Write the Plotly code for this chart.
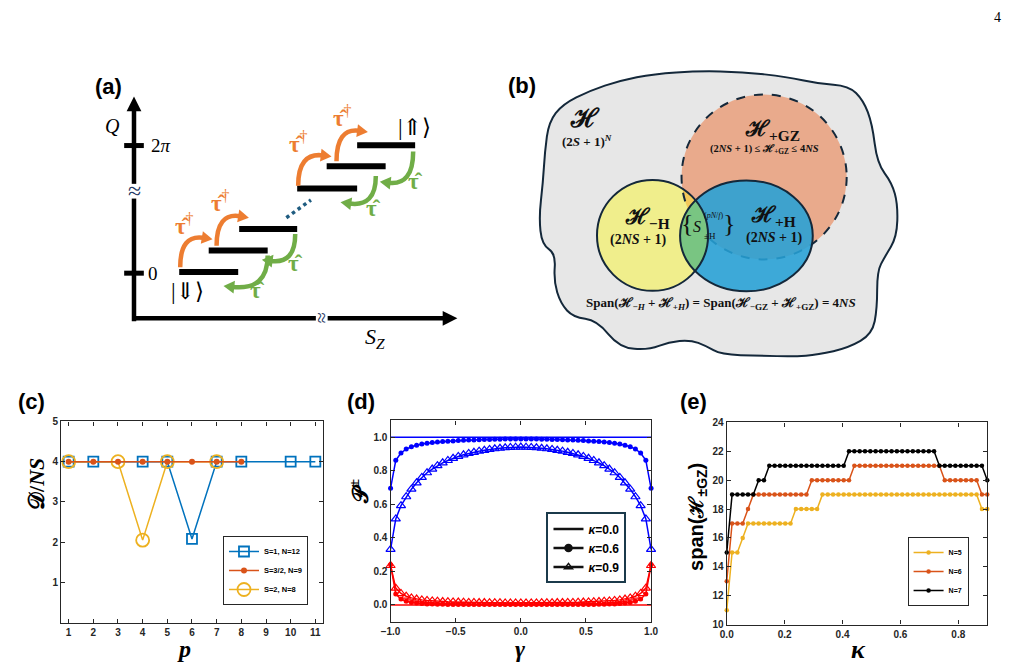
import numpy as np
import plotly.graph_objects as go

# reference picture size; the page body keeps an 8 px margin, so the figure is that much smaller
W, H = 1017, 672
PAD = 8
FW, FH = W - 2 * PAD, H - 2 * PAD
SERIF = "Liberation Serif, DejaVu Serif, serif"
SANS = "Liberation Sans, Arial, sans-serif"
INK = "#262626"

# ---------------- panel (c): D/NS against p ----------------
p_s1 = [1, 2, 4, 5, 6, 7, 8, 10, 11]
dns_s1 = [4, 4, 4, 4, 2.08, 4, 4, 4, 4]
p_s32 = [1, 2, 3, 4, 5, 6, 7, 8]
dns_s32 = [4, 4, 4, 4, 4, 4, 4, 4]
p_s2 = [1, 3, 4, 5, 7]
dns_s2 = [4, 4, 2.05, 4, 4]
p_ticks = [1, 2, 3, 4, 5, 6, 7, 8, 9, 10, 11]

# ---------------- panel (d): P+- against gamma ----------------
gamma = [-1.00, -0.96, -0.92, -0.88, -0.84, -0.80, -0.76, -0.72, -0.68, -0.64,
         -0.60, -0.56, -0.52, -0.48, -0.44, -0.40, -0.36, -0.32, -0.28, -0.24,
         -0.20, -0.16, -0.12, -0.08, -0.04, 0.00, 0.04, 0.08, 0.12, 0.16,
         0.20, 0.24, 0.28, 0.32, 0.36, 0.40, 0.44, 0.48, 0.52, 0.56,
         0.60, 0.64, 0.68, 0.72, 0.76, 0.80, 0.84, 0.88, 0.92, 0.96, 1.00]
gamma_ends = [-1.0, 1.0]
p_plus_k0 = [1.0, 1.0]
p_minus_k0 = [0.0, 0.0]
p_plus_k06 = [0.695, 0.862, 0.906, 0.929, 0.943, 0.952, 0.959, 0.964, 0.968, 0.971,
              0.974, 0.976, 0.978, 0.980, 0.982, 0.983, 0.984, 0.985, 0.986, 0.987,
              0.988, 0.988, 0.989, 0.989, 0.990, 0.990, 0.990, 0.989, 0.989, 0.988,
              0.988, 0.987, 0.986, 0.985, 0.984, 0.983, 0.982, 0.980, 0.978, 0.976,
              0.974, 0.971, 0.968, 0.964, 0.959, 0.952, 0.943, 0.929, 0.906, 0.862, 0.695]
p_plus_k09 = [0.331, 0.513, 0.592, 0.645, 0.690, 0.728, 0.760, 0.788, 0.810, 0.830,
              0.847, 0.861, 0.874, 0.885, 0.895, 0.903, 0.910, 0.917, 0.922, 0.927,
              0.931, 0.934, 0.937, 0.939, 0.940, 0.941, 0.940, 0.939, 0.937, 0.934,
              0.931, 0.927, 0.922, 0.917, 0.910, 0.903, 0.895, 0.885, 0.874, 0.861,
              0.847, 0.830, 0.810, 0.788, 0.760, 0.728, 0.690, 0.645, 0.592, 0.513, 0.331]
p_minus_k06 = [0.240, 0.065, 0.035, 0.022, 0.015, 0.011, 0.008, 0.006, 0.005, 0.004,
               0.004, 0.003, 0.003, 0.003, 0.002, 0.002, 0.002, 0.002, 0.002, 0.002,
               0.002, 0.002, 0.002, 0.002, 0.002, 0.002, 0.002, 0.002, 0.002, 0.002,
               0.002, 0.002, 0.002, 0.002, 0.002, 0.002, 0.002, 0.003, 0.003, 0.003,
               0.004, 0.004, 0.005, 0.006, 0.008, 0.011, 0.015, 0.022, 0.035, 0.065, 0.240]
p_minus_k09 = [0.235, 0.100, 0.068, 0.052, 0.042, 0.035, 0.030, 0.027, 0.024, 0.022,
               0.020, 0.019, 0.018, 0.017, 0.016, 0.015, 0.015, 0.014, 0.014, 0.013,
               0.013, 0.013, 0.012, 0.012, 0.012, 0.012, 0.012, 0.012, 0.012, 0.013,
               0.013, 0.013, 0.014, 0.014, 0.015, 0.015, 0.016, 0.017, 0.018, 0.019,
               0.020, 0.022, 0.024, 0.027, 0.030, 0.035, 0.042, 0.052, 0.068, 0.100, 0.235]

# ---------------- panel (e): span(H+-GZ) against kappa ----------------
kappa = [0.0000, 0.0184, 0.0367, 0.0551, 0.0735, 0.0918, 0.1102, 0.1286, 0.1469, 0.1653,
         0.1837, 0.2020, 0.2204, 0.2388, 0.2571, 0.2755, 0.2939, 0.3122, 0.3306, 0.3490,
         0.3673, 0.3857, 0.4041, 0.4224, 0.4408, 0.4592, 0.4776, 0.4959, 0.5143, 0.5327,
         0.5510, 0.5694, 0.5878, 0.6061, 0.6245, 0.6429, 0.6612, 0.6796, 0.6980, 0.7163,
         0.7347, 0.7531, 0.7714, 0.7898, 0.8082, 0.8265, 0.8449, 0.8633, 0.8816, 0.9000]
span_n5 = [11, 15, 15, 16, 17, 17, 17, 17, 17, 17,
           17, 17, 17, 18, 18, 18, 18, 18, 19, 19,
           19, 19, 19, 19, 19, 19, 19, 19, 19, 19,
           19, 19, 19, 19, 19, 19, 19, 19, 19, 19,
           19, 19, 19, 19, 19, 19, 19, 19, 18, 18]
span_n6 = [13, 17, 17, 17, 18, 19, 19, 19, 19, 19,
           19, 19, 19, 19, 19, 19, 20, 20, 20, 20,
           20, 20, 20, 20, 21, 21, 21, 21, 21, 21,
           21, 21, 21, 21, 21, 21, 21, 21, 21, 21,
           21, 20, 20, 20, 20, 20, 20, 20, 19, 19]
span_n7 = [15, 19, 19, 19, 19, 19, 20, 20, 21, 21,
           21, 21, 21, 21, 21, 21, 21, 21, 21, 21,
           21, 21, 21, 22, 22, 22, 22, 22, 22, 22,
           22, 22, 22, 22, 22, 22, 22, 22, 22, 22,
           21, 21, 21, 21, 21, 21, 21, 21, 21, 20]

# ---------------- drawing helpers (window pixel -> paper) ----------------
shapes, annos = [], []


def fx(x):
    return (x - PAD) / FW


def fy(y):
    return 1 - (y - PAD) / FH


def pt(p):
    return f"{fx(p[0]):.5f},{fy(p[1]):.5f}"


def seg(x0, y0, x1, y1, color, width, dash=None):
    shapes.append(dict(type="line", xref="paper", yref="paper",
                       x0=fx(x0), y0=fy(y0), x1=fx(x1), y1=fy(y1),
                       line=dict(color=color, width=width, dash=dash)))


def poly(pts, fill, opacity=1.0):
    d = "M " + " L ".join(pt(p) for p in pts) + " Z"
    shapes.append(dict(type="path", xref="paper", yref="paper", path=d,
                       fillcolor=fill, opacity=opacity, line=dict(width=0)))


def oval(c, r, fill=None, line=None, width=0, dash=None, opacity=1.0):
    shapes.append(dict(type="circle", xref="paper", yref="paper",
                       x0=fx(c[0] - r[0]), x1=fx(c[0] + r[0]),
                       y0=fy(c[1] + r[1]), y1=fy(c[1] - r[1]),
                       fillcolor=fill or "rgba(0,0,0,0)", opacity=opacity,
                       line=dict(color=line or "rgba(0,0,0,0)", width=width, dash=dash)))


def text(x, y, s, size, color="black", family=SERIF, **kw):
    annos.append(dict(x=fx(x), y=fy(y), xref="paper", yref="paper", text=s,
                      showarrow=False, xanchor="center", yanchor="middle",
                      font=dict(size=size, color=color, family=family), **kw))


def curved_arrow(p0, pc, p1, color):
    path = f"M {pt(p0)} Q {pt(pc)} {pt(p1)}"
    shapes.append(dict(type="path", xref="paper", yref="paper", path=path,
                       fillcolor="rgba(0,0,0,0)", line=dict(color=color, width=4.5)))
    d = np.array(p1, float) - np.array(pc, float)
    d /= np.hypot(*d)
    n = np.array([-d[1], d[0]])
    tip = np.array(p1) + 9 * d
    base = np.array(p1) - 2 * d
    poly([tip, base + 6.5 * n, base - 6.5 * n], color)


def ellipse_pts(c, r, n=480):
    t = np.linspace(0, 2 * np.pi, n, endpoint=False)
    return np.c_[c[0] + r[0] * np.cos(t), c[1] + r[1] * np.sin(t)]


def arc_in(a, b):
    pts = ellipse_pts(*a)
    m = ((pts[:, 0] - b[0][0]) / b[1][0]) ** 2 + ((pts[:, 1] - b[0][1]) / b[1][1]) ** 2 <= 1
    start = int(np.argmax(m & ~np.roll(m, 1)))
    pts, m = np.roll(pts, -start, axis=0), np.roll(m, -start)
    return pts[:int(np.argmin(m))]


def lens(a, b):
    return np.vstack([arc_in(a, b), arc_in(b, a)])


def smooth_closed(pts):
    n = len(pts)
    mids = [((pts[i][0] + pts[(i + 1) % n][0]) / 2, (pts[i][1] + pts[(i + 1) % n][1]) / 2)
            for i in range(n)]
    d = f"M {pt(mids[-1])}"
    for i in range(n):
        d += f" Q {pt(pts[i])} {pt(mids[i])}"
    return d + " Z"


# ---------------- (a) ladder of states ----------------
ORANGE, GREEN, NAVY = "#ED7D31", "#70AD47", "#1F3864"
seg(126, 321, 126, 104, "black", 4.5)
poly([(126, 92), (118.5, 107), (133.5, 107)], "black")
seg(124, 318, 442, 318, "black", 4.5)
poly([(455, 318), (440, 310.5), (440, 325.5)], "black")
seg(116, 142, 136, 142, "black", 5)
seg(116, 272, 136, 272, "black", 5)
shapes.append(dict(type="rect", xref="paper", yref="paper", x0=fx(119), x1=fx(134),
                   y0=fy(196), y1=fy(181), fillcolor="white", line=dict(width=0)))
shapes.append(dict(type="rect", xref="paper", yref="paper", x0=fx(311), x1=fx(323),
                   y0=fy(326), y1=fy(310), fillcolor="white", line=dict(width=0)))
text(127, 188, "≈", 24, NAVY)
text(317, 318, "≈", 20, NAVY, textangle=90)
text(104, 122, "<i>Q</i>", 20)
text(153, 142, "2<i>π</i>", 19)
text(145, 272, "0", 19)
text(371, 338, "<i>S</i><sub><i>Z</i></sub>", 22)

bars = [(172, 232, 270.7), (202, 262, 249), (233, 292, 227),
        (292, 353, 185.7), (322, 382, 163), (353, 412, 141.7)]
for x0, x1, y in bars:
    seg(x0, y, x1, y, "black", 6)
seg(281, 215.5, 306, 197.5, "#1F5C80", 3.5, "dot")

for p0, pc, p1 in [((173, 266), (173, 232), (197, 236)),
                   ((210, 244), (210, 210), (234, 214)),
                   ((293, 183), (293, 149), (318, 152)),
                   ((332, 158), (332, 124), (355, 127))]:
    curved_arrow(p0, pc, p1, ORANGE)
for p0, pc, p1 in [((262, 254), (262, 290), (226, 286)),
                   ((290, 232), (290, 263), (265, 259.5)),
                   ((372, 173), (372, 205), (345, 201)),
                   ((410, 148), (410, 183), (385, 180))]:
    curved_arrow(p0, pc, p1, GREEN)
for x, y in [(177, 222), (214, 199), (293, 139), (338, 112)]:
    text(x, y, "<b>τ̂</b><sup>†</sup>", 23, ORANGE)
for x, y in [(252, 290), (290, 262), (370, 206), (412, 179)]:
    text(x, y, "<b>τ̂</b>", 23, GREEN)
text(180, 291, "|⇓⟩", 23)
text(411, 124, "|⇑⟩", 23)

# ---------------- (b) Hilbert space diagram ----------------
blob = [(548, 118), (562, 100), (590, 86), (620, 76), (655, 69), (700, 66), (745, 67),
        (790, 72), (822, 79), (853, 81), (868, 96), (877, 120), (882, 160), (897, 180),
        (903, 202), (902, 235), (890, 255), (882, 270), (882, 308), (877, 334), (853, 348),
        (822, 355), (797, 357), (763, 356), (723, 355), (708, 346), (692, 340), (670, 342),
        (650, 350), (620, 348), (597, 320), (573, 317), (560, 303), (553, 280), (555, 252),
        (541, 243), (538, 215), (542, 180), (544, 148)]
OUT = "#14283A"
shapes.append(dict(type="path", xref="paper", yref="paper", path=smooth_closed(blob),
                   fillcolor="#E7E7E7", line=dict(color=OUT, width=2)))
C_Y = ((653.5, 233.5), (56.5, 56.5))
C_B = ((749.0, 234.0), (67.5, 56.5))
C_O = ((767.0, 174.0), (84.0, 84.0))
oval(*C_O, fill="#E9AA8C")
oval(*C_Y, fill="#F0EE8C")
poly(lens(C_Y, C_O), "#F2C85A")
oval(*C_O, line=OUT, width=2, dash="dash")
oval(*C_B, fill="#25A0D6", opacity=0.88)
poly(lens(C_Y, C_B), "#7EC87C", opacity=0.92)
oval(*C_Y, line=OUT, width=2)
oval(*C_B, line=OUT, width=2)

text(585, 114, "<b>ℋ</b>", 26, "#111")
text(587, 137, "<b>(2<i>S</i> + 1)<sup><i>N</i></sup></b>", 13, "#111")
text(776, 126, "<b>ℋ<sub>+GZ</sub></b>", 22, "#111")
text(767, 146, "<b>(2<i>NS</i> + 1) ≤ ℋ<sub>+GZ</sub> ≤ 4<i>NS</i></b>", 10.5, "#111")
text(648, 216, "<b>ℋ<sub>−H</sub></b>", 22, "#111")
text(639, 238, "<b>(2<i>NS</i> + 1)</b>", 14, "#111")
text(777, 214, "<b>ℋ<sub>+H</sub></b>", 22, "#111")
text(778, 236, "<b>(2<i>NS</i> + 1)</b>", 14, "#111")
text(689, 221, "{", 26, "#111")
text(731, 221, "}", 26, "#111")
text(699, 224, "<i>S</i>", 16, "#111")
text(716, 213, "(<i>pN</i>/<i>f</i>)", 8, "#111")
text(712, 234, "±H", 9, "#111")
text(723, 303, "<b>Span(ℋ<sub>−<i>H</i></sub> + ℋ<sub>+<i>H</i></sub>) = "
               "Span(ℋ<sub>−GZ</sub> + ℋ<sub>+GZ</sub>) = 4<i>NS</i></b>", 13, "#111")

# ---------------- panel letters, titles ----------------
for x, y, s in [(100, 82, "(a)"), (521, 81, "(b)"), (22, 403, "(c)"),
                (357, 403, "(d)"), (695, 403, "(e)")]:
    text(x, y, f"<b>{s}</b>", 22, "black", SANS)
text(1004, 12, "4", 14)
text(27, 487, "<b>𝒟/<i>NS</i></b>", 22, "black", textangle=-90)
text(177, 655, "<b><i>p</i></b>", 24)
text(355, 495, "<b>𝒫<sup>±</sup></b>", 22, "black", textangle=-90)
text(519, 655, "<b><i>γ</i></b>", 24)
text(699, 520, "<b>span(ℋ<sub>±GZ</sub>)</b>", 20, "black", SANS, textangle=-90)
text(863, 655, "<b><i>κ</i></b>", 26)

# ---------------- traces ----------------
BLUE_M, ORANGE_M, YELLOW_M = "#0072BD", "#D95319", "#EDB120"
fig = go.Figure()
fig.add_trace(go.Scatter(x=p_s1, y=dns_s1, name="S=1, N=12", legend="legend", legendrank=1,
                         mode="lines+markers", line=dict(color=BLUE_M, width=1.5),
                         marker=dict(symbol="square-open", size=10, color=BLUE_M,
                                     line=dict(width=1.8, color=BLUE_M))))
fig.add_trace(go.Scatter(x=p_s2, y=dns_s2, name="S=2, N=8", legend="legend", legendrank=3,
                         mode="lines+markers", line=dict(color=YELLOW_M, width=1.5),
                         marker=dict(symbol="circle-open", size=13, color=YELLOW_M,
                                     line=dict(width=1.8, color=YELLOW_M))))
fig.add_trace(go.Scatter(x=p_s32, y=dns_s32, name="S=3/2, N=9", legend="legend", legendrank=2,
                         mode="lines+markers", line=dict(color=ORANGE_M, width=1.5),
                         marker=dict(symbol="circle", size=6, color=ORANGE_M)))

for ys, col in [(p_plus_k0, "#0000FF"), (p_minus_k0, "#FF0000")]:
    fig.add_trace(go.Scatter(x=gamma_ends, y=ys, xaxis="x2", yaxis="y2", mode="lines",
                             line=dict(color=col, width=1.5), showlegend=False))
for ys, col in [(p_plus_k06, "#0000FF"), (p_minus_k06, "#FF0000")]:
    fig.add_trace(go.Scatter(x=gamma, y=ys, xaxis="x2", yaxis="y2", mode="lines+markers",
                             line=dict(color=col, width=1.5), cliponaxis=False,
                             marker=dict(symbol="circle", size=5, color=col), showlegend=False))
for ys, col in [(p_plus_k09, "#0000FF"), (p_minus_k09, "#FF0000")]:
    fig.add_trace(go.Scatter(x=gamma, y=ys, xaxis="x2", yaxis="y2", mode="lines+markers",
                             line=dict(color=col, width=1.5), cliponaxis=False,
                             marker=dict(symbol="triangle-up-open", size=8, color=col,
                                         line=dict(width=1.2, color=col)), showlegend=False))
for name, sym in [("<i>κ</i>=0.0", None), ("<i>κ</i>=0.6", "circle"),
                  ("<i>κ</i>=0.9", "triangle-up-open")]:
    fig.add_trace(go.Scatter(x=[None], y=[None], xaxis="x2", yaxis="y2", name=name,
                             legend="legend2", mode="lines+markers" if sym else "lines",
                             line=dict(color="#111111", width=2.5),
                             marker=dict(symbol=sym or "circle", size=7, color="#111111",
                                         line=dict(width=1.5, color="#111111"))))

for ys, col, name in [(span_n5, YELLOW_M, "N=5"), (span_n6, ORANGE_M, "N=6"),
                      (span_n7, "black", "N=7")]:
    fig.add_trace(go.Scatter(x=kappa, y=ys, xaxis="x3", yaxis="y3", name=name,
                             legend="legend3", mode="lines+markers", cliponaxis=False,
                             line=dict(color=col, width=1.5),
                             marker=dict(symbol="circle", size=4.5, color=col)))

# ---------------- layout ----------------
ax = dict(showline=True, linecolor=INK, linewidth=1.3, mirror="ticks", ticks="inside",
          ticklen=4, tickwidth=1, tickcolor=INK, showgrid=False, zeroline=False,
          tickfont=dict(family=SANS, size=10, color=INK, weight="bold"))
leg = dict(xanchor="right", yanchor="bottom", bgcolor="white", itemwidth=30,
           tracegroupgap=0, borderwidth=1, bordercolor=INK)

fig.update_layout(
    width=FW, height=FH, margin=dict(l=0, r=0, t=0, b=0),
    paper_bgcolor="white", plot_bgcolor="white",
    xaxis=dict(ax, domain=[fx(52), fx(318)], range=[0.7, 11.3], tickvals=p_ticks, anchor="y"),
    yaxis=dict(ax, domain=[fy(628), fy(423)], range=[0, 5], tickvals=[1, 2, 3, 4, 5], anchor="x"),
    xaxis2=dict(ax, domain=[fx(387), fx(652)], range=[-1, 1], tickvals=[-1, -0.5, 0, 0.5, 1],
                tickformat=".1f", anchor="y2"),
    yaxis2=dict(ax, domain=[fy(627), fy(422)], range=[-0.1, 1.1],
                tickvals=[0, 0.2, 0.4, 0.6, 0.8, 1.0], tickformat=".1f", anchor="x2"),
    xaxis3=dict(ax, domain=[fx(729), fx(994)], range=[0, 0.9],
                tickvals=[0, 0.2, 0.4, 0.6, 0.8], tickformat=".1f", anchor="y3"),
    yaxis3=dict(ax, domain=[fy(630), fy(424)], range=[10, 24],
                tickvals=[10, 12, 14, 16, 18, 20, 22, 24], anchor="x3"),
    legend=dict(leg, x=fx(303), y=fy(610),
                font=dict(family=SANS, size=7.5, color="black", weight="bold")),
    legend2=dict(leg, x=fx(627), y=fy(588), borderwidth=2, bordercolor="#1B3A4B",
                 font=dict(family=SANS, size=12, color="black", weight="bold")),
    legend3=dict(leg, x=fx(975), y=fy(611),
                 font=dict(family=SANS, size=7, color="black", weight="bold")),
    shapes=shapes, annotations=annos,
)

fig.write_html("out.html")
